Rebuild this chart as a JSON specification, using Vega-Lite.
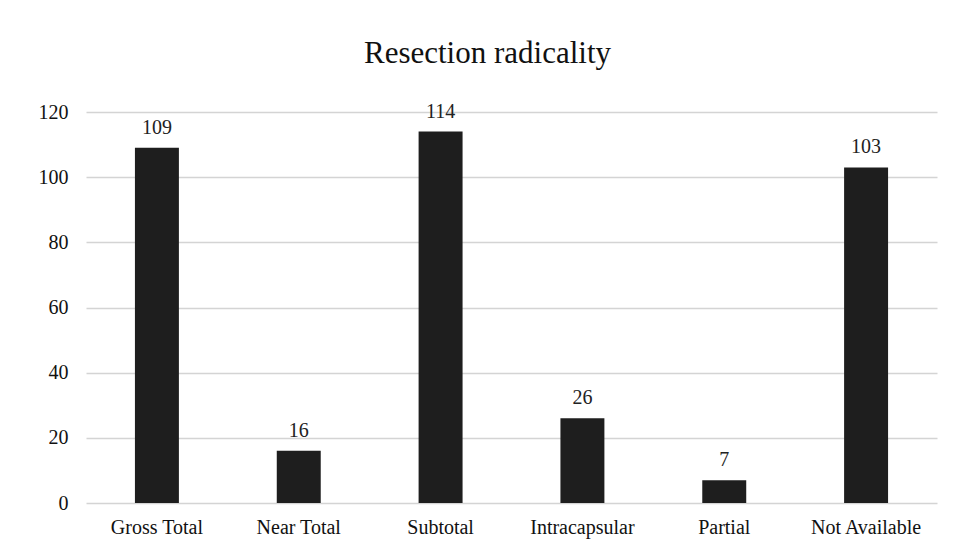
{
  "$schema": "https://vega.github.io/schema/vega-lite/v6.json",
  "width": 851,
  "height": 391,
  "autosize": {"type": "none"},
  "padding": {"left": 86, "top": 112, "right": 16, "bottom": 46},
  "background": "white",
  "title": {"text": "Resection radicality", "font": "Liberation Serif", "fontSize": 31, "fontWeight": "normal", "color": "#111", "anchor": "middle", "offset": 32, "dx": -24},
  "data": {"values": [
    {"category": "Gross Total", "count": 109},
    {"category": "Near Total", "count": 16},
    {"category": "Subtotal", "count": 114},
    {"category": "Intracapsular", "count": 26},
    {"category": "Partial", "count": 7},
    {"category": "Not Available", "count": 103}
  ]},
  "encoding": {
    "x": {"field": "category", "type": "nominal", "sort": null,
      "scale": {"paddingInner": 0.69, "paddingOuter": 0.345},
      "axis": {"title": null, "labelAngle": 0, "ticks": false, "domain": false, "labelFont": "Liberation Serif", "labelFontSize": 20, "labelColor": "#111", "labelPadding": 14}},
    "y": {"field": "count", "type": "quantitative",
      "scale": {"domain": [0, 120], "nice": false},
      "axis": {"title": null, "values": [0, 20, 40, 60, 80, 100, 120], "ticks": false, "domain": false, "labelFont": "Liberation Serif", "labelFontSize": 20, "labelColor": "#111", "labelPadding": 18, "gridColor": "#d4d4d4", "gridWidth": 1.5}}
  },
  "layer": [
    {"mark": {"type": "bar", "color": "#1e1e1e"}},
    {"mark": {"type": "text", "baseline": "alphabetic", "dy": -14, "font": "Liberation Serif", "fontSize": 20, "color": "#222"},
     "encoding": {"text": {"field": "count", "type": "quantitative"}}}
  ],
  "config": {"view": {"stroke": null}}
}
